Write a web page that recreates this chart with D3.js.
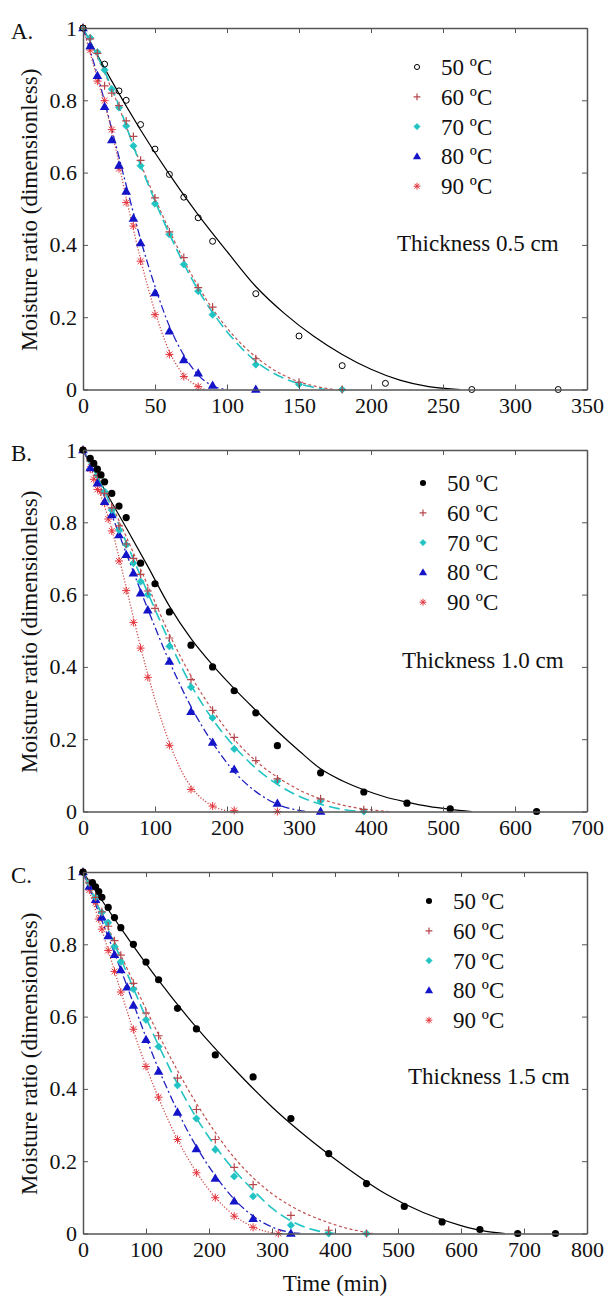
<!DOCTYPE html>
<html><head><meta charset="utf-8">
<script src="https://cdn.jsdelivr.net/npm/d3@7"></script>
<style>body{margin:0;background:#fff}svg{display:block}</style>
</head><body>
<svg id="c" width="608" height="1297"></svg>
<script>
// ---------- DATA ----------
const temps = ["50 ºC", "60 ºC", "70 ºC", "80 ºC", "90 ºC"];
const yTicks = [0, 0.2, 0.4, 0.6, 0.8, 1];
const yTickLabels = ["0", "0.2", "0.4", "0.6", "0.8", "1"];
const xTicksA = [0, 50, 100, 150, 200, 250, 300, 350];
const xTicksB = [0, 100, 200, 300, 400, 500, 600, 700];
const xTicksC = [0, 100, 200, 300, 400, 500, 600, 700, 800];
const thicknessLabels = ["Thickness 0.5 cm", "Thickness 1.0 cm", "Thickness 1.5 cm"];
const panelLabels = ["A.", "B.", "C."];

// Panel A (0.5 cm) : [time (min), moisture ratio]
const A50_pts = [[0,1],[15,0.90],[25,0.826],[30,0.80],[40,0.733],[50,0.665],[60,0.595],[70,0.532],[80,0.475],[90,0.41],[120,0.265],[150,0.148],[180,0.066],[210,0.017],[270,0],[330,0]];
const A60_pts = [[0,1],[5,0.97],[10,0.93],[15,0.84],[20,0.82],[25,0.785],[30,0.743],[35,0.70],[40,0.634],[50,0.53],[60,0.436],[70,0.365],[80,0.282],[90,0.228],[120,0.085],[150,0.02],[180,0]];
const A70_pts = [[0,1],[5,0.973],[10,0.933],[15,0.884],[20,0.831],[25,0.78],[30,0.729],[35,0.674],[40,0.619],[50,0.514],[60,0.429],[70,0.346],[80,0.272],[90,0.207],[120,0.069],[150,0.014],[180,0]];
const A80_pts = [[0,1],[5,0.95],[10,0.868],[15,0.782],[20,0.69],[25,0.62],[30,0.548],[35,0.473],[40,0.405],[50,0.267],[60,0.161],[70,0.082],[80,0.045],[90,0.011],[120,0]];
const A90_pts = [[0,1],[5,0.939],[10,0.853],[15,0.799],[20,0.719],[25,0.611],[30,0.517],[35,0.452],[40,0.355],[50,0.207],[60,0.097],[70,0.036],[80,0.008]];
const A50_fit = [[0,1],[20,0.853],[40,0.718],[60,0.595],[80,0.483],[100,0.382],[120,0.285],[140,0.21],[160,0.148],[180,0.097],[200,0.056],[220,0.026],[240,0.008],[262,0]];
const A60_fit = [[0,1],[20,0.83],[40,0.625],[60,0.44],[80,0.285],[100,0.17],[120,0.09],[140,0.038],[160,0.01],[175,0]];
const A70_fit = [[0,1],[20,0.835],[40,0.62],[60,0.43],[80,0.275],[100,0.16],[120,0.078],[140,0.03],[160,0.006],[168,0]];
const A80_fit = [[0,1],[10,0.87],[20,0.72],[30,0.565],[40,0.415],[50,0.285],[60,0.175],[70,0.095],[80,0.04],[90,0.01],[100,0]];
const A90_fit = [[0,1],[10,0.86],[20,0.715],[30,0.53],[40,0.36],[50,0.215],[60,0.105],[70,0.04],[80,0.008],[85,0]];

// Panel B (1.0 cm)
const B50_pts = [[0,1],[10,0.977],[15,0.963],[20,0.947],[25,0.931],[30,0.912],[40,0.88],[50,0.845],[60,0.813],[80,0.687],[100,0.63],[120,0.552],[150,0.46],[180,0.40],[210,0.334],[240,0.273],[270,0.182],[330,0.107],[390,0.054],[450,0.023],[510,0.007],[630,0]];
const B60_pts = [[0,1],[10,0.97],[20,0.93],[30,0.88],[40,0.84],[50,0.79],[60,0.74],[70,0.70],[80,0.656],[90,0.61],[100,0.562],[120,0.48],[150,0.365],[180,0.28],[210,0.205],[240,0.141],[270,0.09],[330,0.035],[390,0.005]];
const B70_pts = [[0,1],[10,0.97],[20,0.93],[30,0.885],[40,0.834],[50,0.779],[60,0.738],[70,0.687],[80,0.636],[90,0.60],[120,0.457],[150,0.344],[180,0.259],[210,0.173],[270,0.084],[330,0.029],[390,0]];
const B80_pts = [[0,1],[10,0.95],[20,0.908],[30,0.857],[40,0.82],[50,0.765],[60,0.71],[70,0.659],[80,0.604],[90,0.557],[120,0.415],[150,0.276],[180,0.191],[210,0.116],[270,0.022],[330,0]];
const B90_pts = [[0,1],[10,0.947],[15,0.919],[20,0.891],[25,0.885],[30,0.853],[35,0.809],[40,0.776],[50,0.693],[60,0.611],[70,0.523],[80,0.452],[90,0.371],[120,0.183],[150,0.061],[180,0.015],[210,0.003],[270,0]];
const B50_fit = [[0,1],[30,0.89],[60,0.785],[90,0.678],[120,0.568],[150,0.478],[180,0.405],[210,0.34],[240,0.28],[270,0.222],[300,0.168],[330,0.118],[360,0.085],[390,0.06],[420,0.04],[450,0.026],[480,0.014],[510,0.006],[540,0]];
const B60_fit = [[0,1],[30,0.89],[60,0.76],[90,0.625],[120,0.49],[150,0.375],[180,0.28],[210,0.2],[240,0.14],[270,0.095],[300,0.06],[330,0.035],[360,0.018],[390,0.007],[425,0]];
const B70_fit = [[0,1],[30,0.885],[60,0.745],[90,0.605],[120,0.47],[150,0.35],[180,0.255],[210,0.18],[240,0.12],[270,0.075],[300,0.042],[330,0.02],[360,0.006],[385,0]];
const B80_fit = [[0,1],[30,0.87],[60,0.715],[90,0.56],[120,0.415],[150,0.29],[180,0.19],[210,0.11],[240,0.055],[270,0.02],[300,0.003],[310,0]];
const B90_fit = [[0,1],[20,0.9],[40,0.78],[60,0.62],[80,0.455],[100,0.31],[120,0.19],[140,0.1],[160,0.045],[180,0.015],[200,0.002],[206,0]];

// Panel C (1.5 cm)
const C50_pts = [[0,1],[15,0.971],[20,0.959],[25,0.946],[30,0.93],[40,0.902],[50,0.874],[60,0.846],[80,0.80],[100,0.751],[120,0.702],[150,0.623],[180,0.566],[210,0.494],[270,0.433],[330,0.318],[390,0.221],[450,0.138],[510,0.075],[570,0.032],[630,0.011],[690,0],[750,0]];
const C60_pts = [[0,1],[10,0.97],[20,0.93],[30,0.89],[40,0.85],[50,0.81],[60,0.77],[80,0.692],[100,0.61],[120,0.547],[150,0.43],[180,0.343],[210,0.26],[240,0.183],[270,0.135],[330,0.05],[390,0.009],[450,0]];
const C70_pts = [[0,1],[10,0.97],[20,0.93],[30,0.888],[40,0.86],[50,0.794],[60,0.752],[80,0.676],[100,0.591],[120,0.517],[150,0.41],[180,0.318],[210,0.232],[240,0.158],[270,0.103],[330,0.023],[390,0],[450,0]];
const C80_pts = [[0,1],[10,0.96],[20,0.923],[30,0.875],[40,0.823],[50,0.771],[60,0.729],[70,0.681],[80,0.631],[100,0.536],[120,0.448],[150,0.335],[180,0.234],[210,0.152],[240,0.089],[270,0.041],[330,0]];
const C90_pts = [[0,1],[10,0.95],[20,0.915],[25,0.87],[30,0.842],[40,0.783],[50,0.725],[60,0.668],[80,0.565],[100,0.462],[120,0.377],[150,0.26],[180,0.168],[210,0.099],[240,0.048],[270,0.017],[310,0]];
const C50_fit = [[0,1],[60,0.845],[120,0.7],[180,0.57],[240,0.455],[300,0.35],[360,0.26],[420,0.18],[480,0.11],[540,0.058],[600,0.022],[640,0.006],[670,0]];
const C60_fit = [[0,1],[60,0.77],[120,0.55],[180,0.36],[240,0.21],[300,0.11],[330,0.076],[360,0.05],[390,0.03],[420,0.014],[460,0]];
const C70_fit = [[0,1],[60,0.76],[120,0.52],[180,0.32],[240,0.175],[270,0.12],[300,0.07],[330,0.035],[360,0.013],[390,0.002],[400,0]];
const C80_fit = [[0,1],[60,0.73],[120,0.455],[180,0.24],[210,0.16],[240,0.095],[270,0.048],[300,0.018],[330,0.003],[345,0]];
const C90_fit = [[0,1],[30,0.84],[60,0.67],[90,0.51],[120,0.375],[150,0.26],[180,0.17],[210,0.1],[240,0.05],[270,0.018],[300,0.002],[308,0]];

// ---------- LAYOUT / STYLE ----------
const FONT = "'Liberation Serif','Times New Roman',serif";
const left = 83, right = 587, plotH = 361.5;
const panels = [
  {top: 28,  xMax: 350, xTicks: xTicksA, pts: [A50_pts,A60_pts,A70_pts,A80_pts,A90_pts], fits: [A50_fit,A60_fit,A70_fit,A80_fit,A90_fit], hollow: true,  legX: 417, legY: 67,  thX: 397, thY: 243},
  {top: 450, xMax: 700, xTicks: xTicksB, pts: [B50_pts,B60_pts,B70_pts,B80_pts,B90_pts], fits: [B50_fit,B60_fit,B70_fit,B80_fit,B90_fit], hollow: false, legX: 423, legY: 483, thX: 402, thY: 660},
  {top: 872, xMax: 800, xTicks: xTicksC, pts: [C50_pts,C60_pts,C70_pts,C80_pts,C90_pts], fits: [C50_fit,C60_fit,C70_fit,C80_fit,C90_fit], hollow: false, legX: 429, legY: 901, thX: 408, thY: 1076}
];
const markerColors = ["#000000", "#b5464c", "#22c3c3", "#1414c8", "#e3343c"];
const lineStyles = [
  {stroke: "#000000", w: 1.2, dash: null},
  {stroke: "#c0504f", w: 1.2, dash: "3,2.5"},
  {stroke: "#22c3c3", w: 1.6, dash: "11,5"},
  {stroke: "#2020c0", w: 1.3, dash: "8,3,2,3"},
  {stroke: "#d04848", w: 1.3, dash: "1.2,1.8"}
];

const svg = d3.select("#c");

function drawMarker(g, k, x, y, hollow, scale) {
  const c = markerColors[k];
  const s = scale || 1;
  if (k === 0) {
    if (hollow) g.append("circle").attr("cx", x).attr("cy", y).attr("r", 3 * s).attr("fill", "none").attr("stroke", c).attr("stroke-width", 1);
    else g.append("circle").attr("cx", x).attr("cy", y).attr("r", 3.6 * s).attr("fill", c);
  } else if (k === 1) {
    const h = 4 * s;
    g.append("path").attr("d", `M${x-h},${y}H${x+h}M${x},${y-h}V${y+h}`).attr("stroke", c).attr("stroke-width", 1.2).attr("fill", "none");
  } else if (k === 2) {
    const h = 3.6 * s;
    g.append("path").attr("d", `M${x},${y-h}L${x+h},${y}L${x},${y+h}L${x-h},${y}Z`).attr("fill", c).attr("stroke", c).attr("stroke-width", 0.8).attr("stroke-linejoin", "round");
  } else if (k === 3) {
    g.append("path").attr("transform", `translate(${x},${y + 0.5})`).attr("d", d3.symbol(d3.symbolTriangle, 40 * s * s)()).attr("fill", c);
  } else {
    const h = 4 * s, d = 2.9 * s;
    g.append("path").attr("d", `M${x-h},${y}H${x+h}M${x},${y-h}V${y+h}M${x-d},${y-d}L${x+d},${y+d}M${x-d},${y+d}L${x+d},${y-d}`).attr("stroke", c).attr("stroke-width", 1).attr("fill", "none");
  }
}

panels.forEach((p, i) => {
  const x = d3.scaleLinear().domain([0, p.xMax]).range([left, right]);
  const y = d3.scaleLinear().domain([0, 1]).range([p.top + plotH, p.top]);
  const g = svg.append("g");
  const clipId = "clip" + i;
  svg.append("clipPath").attr("id", clipId).append("rect").attr("x", left).attr("y", p.top - 1).attr("width", right - left).attr("height", plotH + 1);

  // fitted lines
  const line = d3.line().x(d => x(d[0])).y(d => y(d[1])).curve(d3.curveMonotoneX);
  p.fits.forEach((f, k) => {
    const st = lineStyles[k];
    g.append("path").attr("d", line(f)).attr("fill", "none").attr("stroke", st.stroke)
      .attr("stroke-width", st.w).attr("stroke-dasharray", st.dash).attr("clip-path", `url(#${clipId})`);
  });
  // markers
  const mg = g.append("g");
  [4, 3, 2, 1, 0].forEach(k => {
    p.pts[k].forEach(d => drawMarker(mg, k, x(d[0]), y(d[1]), p.hollow));
  });

  // axes (box with inward ticks)
  const axCol = "#555";
  const bottom = d3.axisBottom(x).tickValues(p.xTicks).tickSizeInner(-5).tickSizeOuter(0).tickPadding(8).tickFormat(d3.format("d"));
  const top = d3.axisTop(x).tickValues(p.xTicks).tickSizeInner(-5).tickSizeOuter(0).tickFormat("");
  const leftAx = d3.axisLeft(y).tickValues(yTicks).tickSizeInner(-5).tickSizeOuter(0).tickPadding(6).tickFormat((d, j) => yTickLabels[j]);
  const rightAx = d3.axisRight(y).tickValues(yTicks).tickSizeInner(-5).tickSizeOuter(0).tickFormat("");
  const axes = [
    g.append("g").attr("transform", `translate(0,${p.top + plotH})`).call(bottom),
    g.append("g").attr("transform", `translate(0,${p.top})`).call(top),
    g.append("g").attr("transform", `translate(${left},0)`).call(leftAx),
    g.append("g").attr("transform", `translate(${right},0)`).call(rightAx)
  ];
  axes.forEach(a => {
    a.attr("font-family", null);
    a.select(".domain").attr("stroke", axCol).attr("stroke-width", 1.5);
    a.selectAll(".tick line").attr("stroke", axCol).attr("stroke-width", 1);
    a.selectAll("text").attr("fill", "#111").style("font-family", FONT).style("font-size", "22px");
  });

  // legend
  const lg = g.append("g");
  temps.forEach((t, k) => {
    const ly = p.legY + k * 29.8;
    drawMarker(lg, k, p.legX, ly, p.hollow, 0.85);
    lg.append("text").attr("x", p.legX + 24).attr("y", ly).attr("dy", "0.35em").text(t)
      .style("font-family", FONT).style("font-size", "23px").attr("fill", "#111");
  });
  // thickness text
  g.append("text").attr("x", p.thX).attr("y", p.thY).attr("dy", "0.35em").text(thicknessLabels[i])
    .style("font-family", FONT).style("font-size", "23px").attr("fill", "#111");
  // panel label
  g.append("text").attr("x", 11).attr("y", p.top - 5 + 8).attr("dy", "0.35em").text(panelLabels[i])
    .style("font-family", FONT).style("font-size", "23px").attr("fill", "#111");
  // y label
  g.append("text").attr("transform", `translate(29,${p.top + plotH / 2 + 1}) rotate(-90)`).attr("text-anchor", "middle")
    .attr("dy", "0.35em").text("Moisture ratio (dimensionless)")
    .style("font-family", FONT).style("font-size", "23px").attr("fill", "#111");
});

svg.append("text").attr("x", 335).attr("y", 1291).attr("text-anchor", "middle").text("Time (min)")
  .style("font-family", FONT).style("font-size", "23px").attr("fill", "#111");
</script>
</body></html>
